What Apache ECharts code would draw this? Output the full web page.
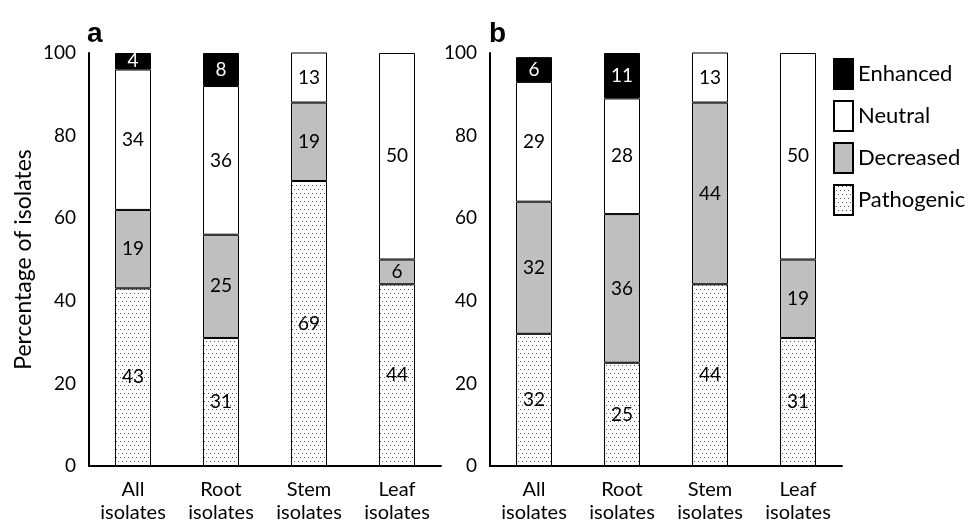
<!DOCTYPE html>
<html><head><meta charset="utf-8">
<script src="https://cdn.jsdelivr.net/npm/echarts@6/dist/echarts.min.js"></script>
<style>html,body{margin:0;padding:0;background:#fff}#c{width:971px;height:525px}</style>
</head><body><div id="c"></div>
<script>
const categories = ['All\nisolates', 'Root\nisolates', 'Stem\nisolates', 'Leaf\nisolates'];
const yTicks = [0, 20, 40, 60, 80, 100];
// Panel a
const aPathogenic = [43, 31, 69, 44];
const aDecreased  = [19, 25, 19, 6];
const aNeutral    = [34, 36, 13, 50];
const aEnhanced   = [4, 8, 0, 0];
// Panel b
const bPathogenic = [32, 25, 44, 31];
const bDecreased  = [32, 36, 44, 19];
const bNeutral    = [29, 28, 13, 50];
const bEnhanced   = [6, 11, 0, 0];

const FONT = 'Lato';
function makeDots() {
  const c = document.createElement('canvas');
  c.width = 4; c.height = 8;
  const g = c.getContext('2d');
  g.fillStyle = '#ffffff'; g.fillRect(0, 0, 4, 8);
  g.fillStyle = '#555555';
  g.fillRect(0, 1, 1, 1);
  g.fillRect(2, 5, 1, 1);
  return c;
}
const dots = makeDots();
const styles = {
  Pathogenic: { color: { image: dots, repeat: 'repeat' }, text: '#000' },
  Decreased: { color: '#bfbfbf', text: '#000' },
  Neutral: { color: '#ffffff', text: '#000' },
  Enhanced: { color: '#000000', text: '#fff' }
};
function mk(name, data, idx) {
  return {
    name, type: 'bar', data: data.map(v => v === 0 ? '-' : v), stack: 's' + idx,
    xAxisIndex: idx, yAxisIndex: idx,
    barWidth: 36,
    itemStyle: { color: styles[name].color, borderColor: '#000', borderWidth: 1 },
    label: {
      show: true, position: 'inside', color: styles[name].text,
      fontFamily: FONT, fontSize: 19,
      formatter: p => String(p.value)
    },
    emphasis: { disabled: true }
  };
}
const grids = [
  { left: 89, width: 352, top: 53, bottom: 59 },
  { left: 490, width: 352, top: 53, bottom: 59 }
];
const xAxes = grids.map((g, i) => ({
  type: 'category', gridIndex: i, data: categories,
  axisLine: { lineStyle: { color: '#000', width: 2 } },
  axisTick: { show: false },
  axisLabel: { color: '#000', fontFamily: FONT, fontSize: 20, lineHeight: 23, margin: 12 }
}));
const yAxes = grids.map((g, i) => ({
  type: 'value', gridIndex: i, min: 0, max: 100, interval: 20,
  axisLine: { show: true, lineStyle: { color: '#000', width: 2 } },
  axisTick: { show: false },
  splitLine: { show: false },
  axisLabel: { color: '#000', fontFamily: FONT, fontSize: 19, margin: 13,
    formatter: v => yTicks.includes(v) ? String(v) : '' },
  name: i === 0 ? 'Percentage of isolates' : '',
  nameLocation: 'middle', nameGap: 54,
  nameTextStyle: { color: '#000', fontFamily: FONT, fontSize: 23 }
}));
const series = [
  mk('Pathogenic', aPathogenic, 0), mk('Decreased', aDecreased, 0),
  mk('Neutral', aNeutral, 0), mk('Enhanced', aEnhanced, 0),
  mk('Pathogenic', bPathogenic, 1), mk('Decreased', bDecreased, 1),
  mk('Neutral', bNeutral, 1), mk('Enhanced', bEnhanced, 1)
];
const chart = echarts.init(document.getElementById('c'), null, { renderer: 'canvas' });
chart.setOption({
  animation: false,
  backgroundColor: '#fff',
  grid: grids, xAxis: xAxes, yAxis: yAxes, series,
  legend: {
    orient: 'vertical', left: 828, top: 53,
    data: ['Enhanced', 'Neutral', 'Decreased', 'Pathogenic'],
    itemWidth: 19, itemHeight: 30, itemGap: 10,
    icon: 'rect',
    textStyle: { color: '#000', fontFamily: FONT, fontSize: 22 },
    selectedMode: false
  },
  graphic: [
    { type: 'text', left: 87, top: 20, style: { text: 'a', font: 'bold 28px "Liberation Sans"', fill: '#000' } },
    { type: 'text', left: 489, top: 20, style: { text: 'b', font: 'bold 28px "Liberation Sans"', fill: '#000' } }
  ]
});
</script></body></html>
